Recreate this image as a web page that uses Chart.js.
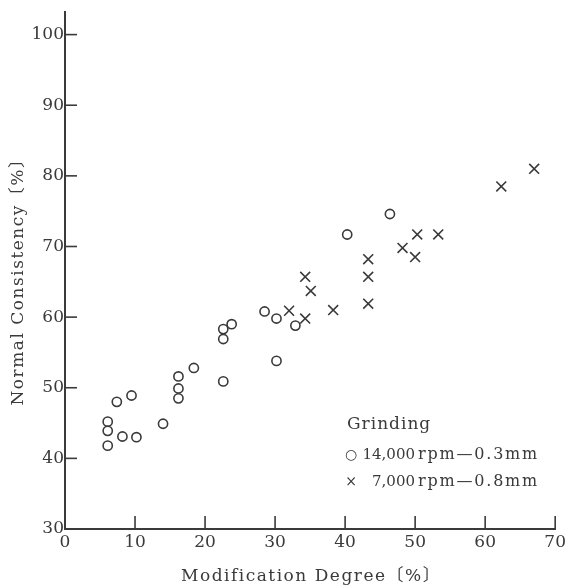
<!DOCTYPE html>
<html>
<head>
<meta charset="utf-8">
<script src="https://cdn.jsdelivr.net/npm/chart.js@4/dist/chart.umd.min.js"></script>
<style>
  html, body { margin: 0; padding: 0; background: #fff; }
  #wrap { width: 569px; height: 587px; position: relative; }
</style>
</head>
<body>
<div id="wrap"><canvas id="c" width="569" height="587"></canvas></div>
<script>
// ---- data ----
const circleX = [6.1, 6.1, 6.1, 7.4, 8.2, 9.5, 10.2, 14.0, 16.2, 16.2, 16.2, 18.4, 22.6, 22.6, 22.6, 23.8, 28.5, 30.2, 30.2, 32.9, 40.3, 46.4];
const circleY = [45.2, 43.9, 41.8, 48.0, 43.1, 48.9, 43.0, 44.9, 51.6, 49.9, 48.5, 52.8, 58.3, 56.9, 50.9, 59.0, 60.8, 59.8, 53.8, 58.8, 71.7, 74.6];
const crossX = [32.0, 34.3, 34.3, 35.1, 38.3, 43.3, 43.3, 43.3, 48.2, 50.0, 50.3, 53.3, 62.3, 67.0];
const crossY = [60.9, 59.8, 65.7, 63.7, 61.0, 61.9, 65.7, 68.2, 69.8, 68.5, 71.7, 71.7, 78.5, 81.0];
const xTicks = [0, 10, 20, 30, 40, 50, 60, 70];
const yTicks = [30, 40, 50, 60, 70, 80, 90, 100];
const seriesNumbers = ['14,000', '7,000'];
const seriesSettings = ['rpm—0.3mm', 'rpm—0.8mm'];
const seriesLabels = seriesNumbers.map((n, i) => n + seriesSettings[i]);
const legendTitle = 'Grinding';
const xTitle = 'Modification Degree〔%〕';
const yTitle = 'Normal Consistency〔%〕';

const INK = '#3a3a3a';
const SERIF = '"DejaVu Serif", "Noto Sans CJK JP", serif';

const toPts = (xs, ys) => xs.map((x, i) => ({ x: x, y: ys[i] }));

// wrap a scale's title drawing to add letter spacing and a small shift
function spacedTitle(scale, spacing, dx, dy) {
  if (scale._spacedTitle) return;
  const orig = scale.drawTitle;
  scale.drawTitle = function () {
    const ctx = this.ctx;
    ctx.save();
    ctx.letterSpacing = spacing;
    ctx.translate(dx, dy);
    orig.apply(this, arguments);
    ctx.restore();
  };
  scale._spacedTitle = true;
}

const innerTicks = {
  id: 'innerTicks',
  afterDraw(chart) {
    const ctx = chart.ctx, a = chart.chartArea;
    const xs = chart.scales.x, ys = chart.scales.y;
    ctx.save();
    ctx.strokeStyle = INK;
    ctx.lineWidth = 1.6;
    yTicks.forEach(v => {
      if (v === 30) return;
      const py = ys.getPixelForValue(v);
      ctx.beginPath(); ctx.moveTo(a.left, py); ctx.lineTo(a.left + 12, py); ctx.stroke();
    });
    xTicks.forEach(v => {
      if (v === 0) return;
      const px = xs.getPixelForValue(v);
      ctx.beginPath(); ctx.moveTo(px, a.bottom); ctx.lineTo(px, a.bottom - 13); ctx.stroke();
    });
    // legend (text inside plot)
    ctx.fillStyle = INK;
    ctx.textBaseline = 'middle';
    ctx.font = '17px ' + SERIF;
    ctx.letterSpacing = '1px';
    ctx.textAlign = 'left';
    ctx.fillText(legendTitle, 347, 425);
    const rows = [{ sym: '○', y: 455 }, { sym: '×', y: 482 }];
    seriesNumbers.forEach((num, i) => {
      const r = rows[i];
      ctx.letterSpacing = '0px';
      ctx.font = '14px ' + SERIF;
      ctx.textAlign = 'center';
      ctx.fillText(r.sym, 351, r.y);
      ctx.font = '15px ' + SERIF;
      ctx.textAlign = 'right';
      ctx.fillText(num, 415, r.y);
      ctx.textAlign = 'left';
      ctx.font = '16px ' + SERIF;
      ctx.letterSpacing = '1.8px';
      ctx.fillText(seriesSettings[i], 418, r.y);
    });
    ctx.restore();
  }
};

new Chart(document.getElementById('c'), {
  type: 'scatter',
  data: {
    datasets: [
      {
        label: seriesLabels[0],
        data: toPts(circleX, circleY),
        pointStyle: 'circle',
        pointRadius: 4.6,
        pointHoverRadius: 4.6,
        borderColor: INK,
        backgroundColor: 'rgba(255,255,255,0)',
        borderWidth: 1.6
      },
      {
        label: seriesLabels[1],
        data: toPts(crossX, crossY),
        pointStyle: 'crossRot',
        pointRadius: 7,
        pointHoverRadius: 7,
        borderColor: INK,
        backgroundColor: INK,
        borderWidth: 1.6
      }
    ]
  },
  options: {
    responsive: false,
    animation: false,
    events: [],
    layout: { padding: { top: 12, right: 11, left: 0, bottom: 0 } },
    plugins: { legend: { display: false }, tooltip: { enabled: false } },
    scales: {
      x: {
        type: 'linear', min: 0, max: 70,
        afterBuildTicks: s => { s.ticks = xTicks.map(v => ({ value: v })); },
        afterFit: s => { s.height = 58; spacedTitle(s, '1.5px', 1, 0); },
        grid: { display: false, drawTicks: false },
        border: { display: true, color: INK, width: 2 },
        ticks: { color: INK, padding: 3, font: { family: SERIF, size: 17 }, maxRotation: 0 },
        title: { display: true, text: xTitle, color: INK, font: { family: SERIF, size: 17 }, padding: { top: 3, bottom: 0 } }
      },
      y: {
        type: 'linear', min: 30, max: 103.2,
        afterBuildTicks: s => { s.ticks = yTicks.map(v => ({ value: v })); },
        afterFit: s => { s.width = 65; spacedTitle(s, '1.5px', 0, 7); },
        grid: { display: false, drawTicks: false },
        border: { display: true, color: INK, width: 2 },
        ticks: { color: INK, padding: 1, font: { family: SERIF, size: 17 } },
        title: { display: true, text: yTitle, color: INK, font: { family: SERIF, size: 17 }, padding: { top: 8, bottom: 0 } }
      }
    }
  },
  plugins: [innerTicks]
});
</script>
</body>
</html>
